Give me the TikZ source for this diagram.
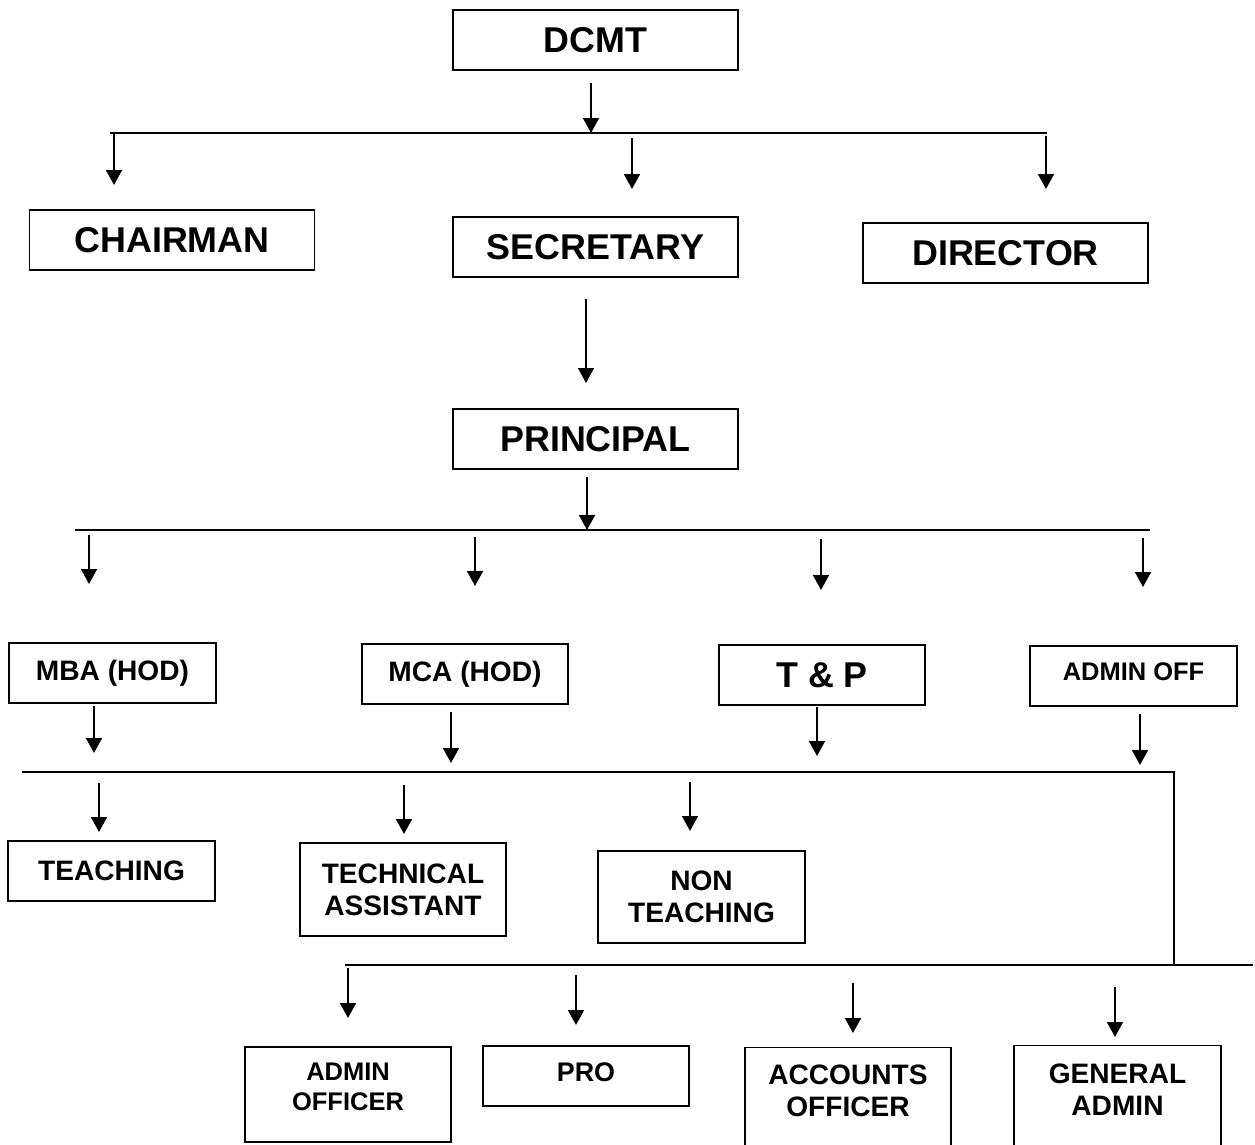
\documentclass[tikz,border=0pt]{standalone}
\usepackage{fontspec}
\setmainfont{Liberation Sans}
\usetikzlibrary{arrows.meta}

\newcommand\headfont{\fontsize{20.4}{24}\selectfont\bfseries}
\newcommand\deptfont{\fontsize{16}{18.2}\selectfont\bfseries}
\newcommand\offfont{\fontsize{14.5}{17}\selectfont\bfseries}

\begin{document}
\begin{tikzpicture}[x=0.02cm,y=-0.02cm,
	box/.style={draw,line width=1.1pt,align=center,inner sep=0pt},
	head/.style={box,minimum width=5.7cm,minimum height=1.2cm,font=\headfont},
	dept/.style={box,minimum width=4.13cm,minimum height=1.2cm,font=\deptfont},
	bar/.style={line width=1.1pt},
	arr/.style={line width=1.2pt,-{Triangle[length=8.5pt,width=9pt]}}]
	\clip (0,0) rectangle (1255,1145);
	% boxes
	\node[head] (dcmt) at (595.5,40) {DCMT};
	\node[head] (chair) at (172,240) {CHAIRMAN};
	\node[head] (secr) at (595.5,247) {SECRETARY};
	\node[head] (dir) at (1005.5,253) {DIRECTOR};
	\node[head] (prin) at (595.5,439) {PRINCIPAL};
	\node[dept] (mba) at (112.5,673) {MBA (HOD)};
	\node[dept] (mca) at (465,674) {MCA (HOD)};
	\node[dept,font=\headfont] (tp) at (822,675) {T \& P};
	\node[dept,label={[font=\offfont,yshift=0.08cm]center:ADMIN OFF}] (adm) at (1133.5,676) {};
	\node[dept] (teach) at (111.5,871) {TEACHING};
	\node[dept,minimum height=1.86cm] (tech) at (403,889.5) {TECHNICAL\\ASSISTANT};
	\node[dept,minimum height=1.84cm] (nont) at (701.5,897) {NON\\TEACHING};
	\node[dept,minimum height=1.9cm,
		label={[font=\offfont,align=center,yshift=0.15cm]center:ADMIN\\OFFICER}] (aoff) at (348,1094.5) {};
	\node[dept,label={[font=\fontsize{15.3}{18}\selectfont\bfseries,yshift=0.08cm]center:PRO}] (pro) at (586,1076) {};
	\node[dept,minimum height=2.1cm,
		label={[font=\deptfont,align=center,yshift=0.18cm]center:ACCOUNTS\\OFFICER}] (acc) at (848,1100) {};
	\node[dept,minimum height=2.1cm,
		label={[font=\deptfont,align=center,yshift=0.17cm]center:GENERAL\\ADMIN}] (gen) at (1117.5,1098) {};
	% bars
	\coordinate (b1w) at (110,133);   \coordinate (b1e) at (1047,133);
	\coordinate (b2w) at (75,530);    \coordinate (b2e) at (1150,530);
	\coordinate (b3w) at (22,772);    \coordinate (b3e) at (1174,772);
	\coordinate (b4w) at (345,965);   \coordinate (b4e) at (1253,965);
	\draw[bar] (b1w) -- (b1e);
	\draw[bar] (b2w) -- (b2e);
	\draw[bar] (b3w) -- (b3e) -- (b3e |- b4w);
	\draw[bar] (b4w) -- (b4e);
	% arrow ends
	\coordinate (b1t) at (591,133);
	\coordinate (sp) at (586,383);
	\coordinate (b2t) at (587,530);
	\coordinate (c1) at (114,185);  \coordinate (c2) at (632,189);  \coordinate (c3) at (1046,189);
	\coordinate (d1) at (89,584);   \coordinate (d2) at (475,586);  \coordinate (d3) at (821,590);  \coordinate (d4) at (1143,587);
	\coordinate (e1) at (94,753);   \coordinate (e2) at (451,763);  \coordinate (e3) at (817,756);  \coordinate (e4) at (1140,765);
	\coordinate (f1) at (99,832);   \coordinate (f2) at (404,834);  \coordinate (f3) at (690,831);
	\coordinate (g1) at (348,1018); \coordinate (g2) at (576,1025); \coordinate (g3) at (853,1033); \coordinate (g4) at (1115,1037);
	% arrows
	\draw[arr,shorten <=0.24cm] (dcmt.south -| b1t) -- (b1t);
	\draw[arr,shorten <=0.42cm] (secr.south -| sp) -- (sp);
	\draw[arr,shorten <=0.14cm] (prin.south -| b2t) -- (b2t);
	\foreach \c/\s in {c1/0, c2/0.1, c3/0.06}
		\draw[arr,shorten <=\s cm] (\c |- b1w) -- (\c);
	\foreach \c/\s in {d1/0.1, d2/0.14, d3/0.18, d4/0.16}
		\draw[arr,shorten <=\s cm] (\c |- b2w) -- (\c);
	\draw[arr,shorten <=0.04cm] (mba.south -| e1) -- (e1);
	\draw[arr,shorten <=0.14cm] (mca.south -| e2) -- (e2);
	\draw[arr,shorten <=0.02cm] (tp.south -| e3) -- (e3);
	\draw[arr,shorten <=0.14cm] (adm.south -| e4) -- (e4);
	\foreach \c/\s in {f1/0.22, f2/0.26, f3/0.2}
		\draw[arr,shorten <=\s cm] (\c |- b3w) -- (\c);
	\foreach \c/\s in {g1/0.06, g2/0.2, g3/0.36, g4/0.44}
		\draw[arr,shorten <=\s cm] (\c |- b4w) -- (\c);
\end{tikzpicture}
\end{document}
